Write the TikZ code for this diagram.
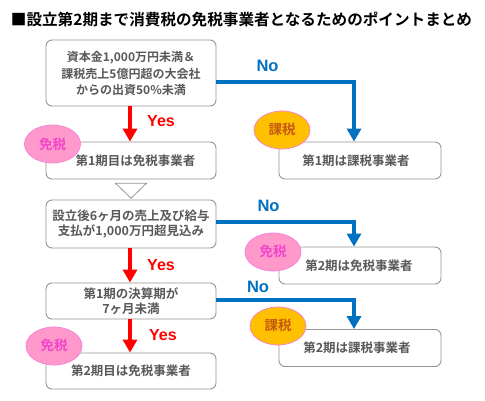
\documentclass[tikz,border=0pt]{standalone}
\usepackage{fontspec}
\setmainfont{Noto Sans CJK JP}[BoldFont={Noto Sans CJK JP Bold}]
\usetikzlibrary{arrows.meta,shapes.geometric}
\definecolor{boxline}{RGB}{150,150,150}
\definecolor{txt}{RGB}{89,89,89}
\definecolor{bluearrow}{RGB}{0,112,192}
\definecolor{pinkfill}{RGB}{255,153,204}
\definecolor{pinktext}{RGB}{240,70,200}
\definecolor{orangefill}{RGB}{255,192,0}
\definecolor{orangetext}{RGB}{197,90,17}
\tikzset{
  x=1pt,y=-1pt,
  flowbox/.style={draw=boxline,line width=0.9pt,rounded corners=6pt,fill=white,
     minimum width=170pt,align=center,text=txt,font=\bfseries\fontsize{12.5}{14}\selectfont,inner sep=0pt},
  rightbox/.style={flowbox,minimum width=162pt,minimum height=37pt},
  badge/.style={ellipse,draw=#1,line width=0.7pt,minimum width=56pt,minimum height=38pt,inner sep=0pt,font=\bfseries\fontsize{13.5}{14}\selectfont},
  menzei/.style={badge=pinktext!70,fill=pinkfill,text=pinktext},
  kazei/.style={badge=pinktext!70,fill=orangefill,text=orangetext},
  yesarrow/.style={draw=red,line width=4.8pt,-{Triangle[length=13pt,width=14pt]}},
  noarrow/.style={draw=bluearrow,line width=#1,-{Triangle[length=13pt,width=14pt]}},
  yeslabel/.style={text=red,font=\sffamily\bfseries\fontsize{16}{16}\selectfont},
  nolabel/.style={text=bluearrow,font=\sffamily\bfseries\fontsize{16.5}{16}\selectfont},
}
\setsansfont{Liberation Sans}
\begin{document}
\begin{tikzpicture}
\useasboundingbox (0,0) rectangle (485,400);
\fill[white] (0,0) rectangle (485,400);
\node[anchor=center,font=\bfseries\fontsize{15.6}{16}\selectfont,text=black,inner sep=0pt] (title) at (241.5,19) {■設立第2期まで消費税の免税事業者となるためのポイントまとめ};

\node[flowbox,minimum height=66pt,font=\bfseries\fontsize{12}{15.5}\selectfont] (a) at (131,73) {資本金1,000万円未満＆\\[2pt]課税売上5億円超の大会社\\からの出資50\%未満};
\node[flowbox,minimum height=37pt] (b) at (131,160.5) {\hspace*{9pt}第1期目は免税事業者};
\node[rightbox] (c) at (360,160.5) {\hspace*{-8pt}第1期は課税事業者};
\node[flowbox,minimum height=48pt,font=\bfseries\fontsize{12.5}{14.5}\selectfont] (d) at (131,224) {設立後6ヶ月の売上及び給与\\支払が1,000万円超見込み};
\node[rightbox] (e) at (360,265.5) {\hspace*{-2pt}第2期は免税事業者};
\node[flowbox,minimum height=36pt,font=\bfseries\fontsize{12.5}{15.5}\selectfont] (f) at (131,301) {第1期の決算期が\\7ヶ月未満};
\node[rightbox] (g) at (360,348) {\hspace*{-6pt}第2期は課税事業者};
\node[flowbox,minimum height=36pt] (h) at (131,371) {第2期目は免税事業者};

\node[draw=boxline,fill=white,line width=0.8pt,isosceles triangle,shape border rotate=-90,isosceles triangle stretches,minimum width=31pt,minimum height=15pt,inner sep=0pt] (t) at (131,189.5) {};

\node[menzei] (m1) at (52.5,144) {\raisebox{1pt}{免税}};
\node[kazei] (k1) at (282,130) {\raisebox{3pt}{課税}};
\node[menzei] (m2) at (273,252) {\raisebox{3pt}{免税}};
\node[kazei] (k2) at (278,326) {\raisebox{2pt}{課税}};
\node[menzei] (m3) at (54,346) {\raisebox{2pt}{免税}};

\coordinate (ay) at (130,106);
\draw[yesarrow] (a.south -| ay) -- (b.north -| ay);
\draw[yesarrow] (d.south -| ay) -- (f.north -| ay);
\draw[yesarrow] (f.south -| ay) -- (h.north -| ay);

\coordinate (nx) at (354,0);
\coordinate (n1) at (216,82);
\coordinate (n2) at (216,222);
\coordinate (n3) at (216,300);
\draw[noarrow=4.7pt] (n1) -| (c.north -| nx);
\draw[noarrow=4pt] (n2) -| (e.north -| nx);
\draw[noarrow=3.6pt] (n3) -| (g.north -| nx);

\node[yeslabel] (y1) at (161,121) {Yes};
\node[yeslabel] (y2) at (161,265) {Yes};
\node[yeslabel] (y3) at (163,335) {Yes};
\node[nolabel] (no1) at (267.5,66) {No};
\node[nolabel] (no2) at (268.5,206) {No};
\node[nolabel] (no3) at (258,287) {No};
\end{tikzpicture}
\end{document}
